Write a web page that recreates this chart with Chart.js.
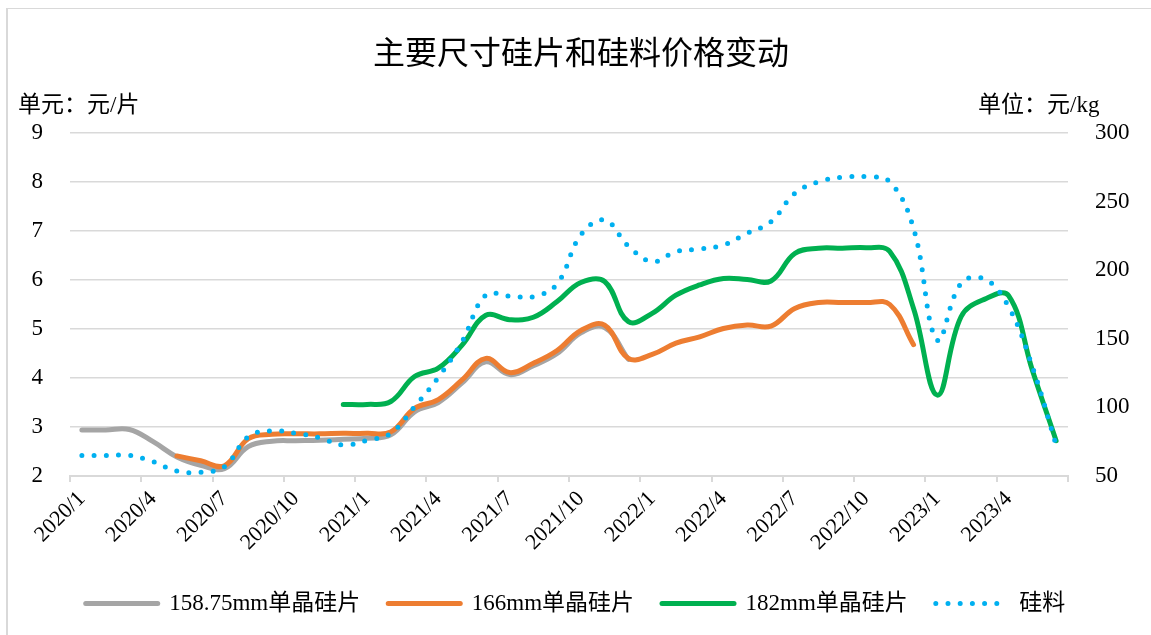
<!DOCTYPE html>
<html lang="zh-CN">
<head>
<meta charset="utf-8">
<title>主要尺寸硅片和硅料价格变动</title>
<script src="https://cdn.jsdelivr.net/npm/chart.js@4.4.1/dist/chart.umd.min.js"></script>
<style>
    html, body { margin: 0; padding: 0; background: #fff; }
    #wrap { position: relative; width: 1151px; height: 635px; overflow: hidden; }
    #frame { position: absolute; left: 6px; top: 8px; right: 0; bottom: 0;
             border-left: 2px solid #d9d9d9; border-top: 1px solid #d9d9d9; }
    #priceChart { position: absolute; left: 0; top: 0; }
    .txt { position: absolute; color: #000; font-family: 'Liberation Serif', 'Noto Sans CJK SC', serif; white-space: nowrap; }
    #chartTitle { left: 0; width: 1162px; top: 27px; text-align: center; font-size: 32px; font-family: 'Noto Sans CJK SC', sans-serif; }
    #unitLeft { left: 18px; top: 85px; font-size: 23px; }
    #unitRight { left: 978px; top: 85px; font-size: 23px; }
</style>
</head>
<body>
<div id="wrap">
    <div id="frame"></div>
    <canvas id="priceChart" width="1151" height="635"></canvas>
    <div class="txt" id="chartTitle">主要尺寸硅片和硅料价格变动</div>
    <div class="txt" id="unitLeft">单元：元/片</div>
    <div class="txt" id="unitRight">单位：元/kg</div>
</div>
<script>
// months 2020/1 .. 2023/6
const months = [];
for (let y = 2020; y <= 2023; y++) {
    for (let m = 1; m <= 12; m++) {
        if (y === 2023 && m > 6) break;
        months.push(y + '/' + m);
    }
}

// wafer prices, yuan per piece (left axis)
const wafer158 = [2.94, 2.94, 2.95, 2.70, 2.39, 2.22, 2.15, 2.60, 2.71, 2.72,
    2.73, 2.75, 2.77, 2.84, 3.31, 3.50, 3.90, 4.33, 4.07, 4.25,
    4.50, 4.92, 5.03, 4.38];
const wafer166 = [null, null, null, null, 2.41, 2.31, 2.21, 2.76, 2.85, 2.86,
    2.86, 2.87, 2.87, 2.90, 3.38, 3.56, 3.96, 4.40, 4.11, 4.30,
    4.56, 4.97, 5.08, 4.40, 4.48, 4.71, 4.84, 5.01, 5.08, 5.06,
    5.42, 5.54, 5.54, 5.54, 5.50, 4.68];
const wafer182 = [null, null, null, null, null, null, null, null, null, null,
    null, 3.46, 3.46, 3.52, 4.03, 4.20, 4.67, 5.28, 5.19, 5.24,
    5.56, 5.95, 5.97, 5.15, 5.32, 5.69, 5.90, 6.03, 6.01, 5.98,
    6.54, 6.65, 6.65, 6.66, 6.58, 5.42, 3.65, 5.25, 5.61, 5.68,
    4.16, 2.72];
// polysilicon price, yuan per kg (right axis)
const polysilicon = [65, 65, 65, 60.4, 53.6, 52.7, 56.8, 78.6, 83.0, 81.1,
    77.9, 72.6, 75.9, 81.1, 100.5, 121.9, 147.9, 181.9, 181.2, 180.7,
    190, 225.7, 236.6, 217.6, 206.2, 213.5, 215.5, 218.4, 226.9, 235.4,
    256, 264.5, 267.7, 268.2, 264.5, 230.5, 149, 190.5, 193.5, 173.4,
    129.7, 72.6];

const seriesNames = ['158.75mm单晶硅片', '166mm单晶硅片', '182mm单晶硅片', '硅料'];
const leftTicks = [2, 3, 4, 5, 6, 7, 8, 9];
const rightTicks = [50, 100, 150, 200, 250, 300];

const FONT = "'Liberation Serif', 'Noto Sans CJK SC', serif";
const GRID = '#d9d9d9';
const DOTS = [0, 12.2];

document.addEventListener('DOMContentLoaded', function() {
    const ctx = document.getElementById('priceChart').getContext('2d');

    function lineSet(label, data, color, order) {
        return {
            label: label,
            data: data,
            yAxisID: 'y',
            borderColor: color,
            backgroundColor: color,
            borderWidth: 5,
            borderCapStyle: 'round',
            borderJoinStyle: 'round',
            tension: 0.4,
            pointRadius: 0,
            pointHoverRadius: 0,
            pointStyle: 'line',
            order: order
        };
    }

    const priceChart = new Chart(ctx, {
        type: 'line',
        data: {
            labels: months,
            datasets: [
                lineSet(seriesNames[0], wafer158, '#a5a5a5', 3),
                lineSet(seriesNames[1], wafer166, '#ed7d31', 2),
                lineSet(seriesNames[2], wafer182, '#00b050', 1),
                {
                    label: seriesNames[3],
                    data: polysilicon,
                    yAxisID: 'y1',
                    borderColor: '#00b0f0',
                    backgroundColor: '#00b0f0',
                    borderWidth: 5,
                    borderDash: DOTS,
                    borderCapStyle: 'round',
                    tension: 0.4,
                    pointRadius: 0,
                    pointHoverRadius: 0,
                    pointStyle: 'line',
                    order: 0
                }
            ]
        },
        options: {
            responsive: false,
            animation: false,
            devicePixelRatio: 1,
            layout: {
                padding: { top: 133, left: 0, right: 0, bottom: 10 }
            },
            scales: {
                x: {
                    type: 'category',
                    offset: true,
                    afterFit: function(scale) { scale.height = 88; },
                    grid: {
                        offset: true,
                        drawOnChartArea: false,
                        drawTicks: true,
                        tickLength: 6,
                        lineWidth: 2,
                        tickColor: function(c) {
                            if (c.index === undefined) return GRID;
                            return c.index % 3 === 0 ? GRID : 'rgba(0,0,0,0)';
                        }
                    },
                    border: { display: true, color: GRID, width: 2 },
                    ticks: {
                        autoSkip: false,
                        minRotation: 45,
                        maxRotation: 45,
                        padding: 4,
                        color: '#000',
                        font: { family: FONT, size: 22 },
                        callback: function(val, i) {
                            return i % 3 === 0 ? this.getLabelForValue(val) : '';
                        }
                    }
                },
                y: {
                    position: 'left',
                    min: 2,
                    max: 9,
                    afterFit: function(scale) { scale.width = 70; },
                    afterBuildTicks: function(scale) {
                        scale.ticks = leftTicks.map(v => ({ value: v }));
                    },
                    grid: { color: GRID, lineWidth: 1.5, drawTicks: false },
                    border: { display: false },
                    ticks: {
                        padding: 27,
                        color: '#000',
                        font: { family: FONT, size: 23 }
                    }
                },
                y1: {
                    position: 'right',
                    min: 50,
                    max: 300,
                    afterFit: function(scale) { scale.width = 83; },
                    afterBuildTicks: function(scale) {
                        scale.ticks = rightTicks.map(v => ({ value: v }));
                    },
                    grid: { display: false, drawTicks: false },
                    border: { display: false },
                    ticks: {
                        padding: 27,
                        color: '#000',
                        font: { family: FONT, size: 23 }
                    }
                }
            },
            plugins: {
                title: { display: false },
                tooltip: { enabled: false },
                legend: {
                    position: 'bottom',
                    labels: {
                        usePointStyle: true,
                        pointStyleWidth: 72,
                        padding: 28,
                        color: '#000',
                        font: { family: FONT, size: 23 },
                        sort: (a, b) => a.datasetIndex - b.datasetIndex,
                        generateLabels: function(chart) {
                            const items = Chart.defaults.plugins.legend.labels.generateLabels(chart);
                            items.forEach(item => {
                                item.lineCap = 'round';
                                item.lineWidth = 5;
                                if (item.datasetIndex === 3) item.lineDash = DOTS;
                            });
                            return items;
                        }
                    }
                }
            }
        }
    });
});
</script>
</body>
</html>
